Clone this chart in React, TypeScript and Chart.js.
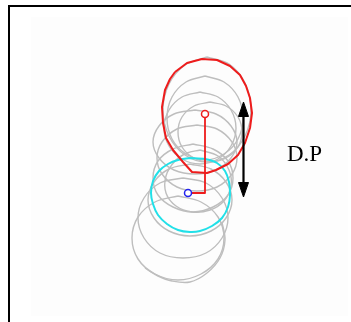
import React, { useEffect, useRef } from "react";
import { Chart, registerables } from "chart.js";

Chart.register(...registerables);

type P = [number, number];

// Contours (x to the right, y downwards, picture units)
const redContour: P[] = [
  [175, 72], [187, 63], [202, 59], [217, 60], [230, 66], [240, 75], [246, 86], [250, 98],
  [252, 113], [250, 128], [245, 143], [238, 155], [228, 164], [216, 170], [207, 173],
  [192, 172], [183, 162], [173, 150], [166, 138], [163, 123], [162, 107], [165, 90],
  [170, 79], [175, 72],
];
const cyanContour: P[] = [
  [190, 158], [205, 159], [217, 163], [225, 171], [229, 182], [230, 195], [228, 207],
  [222, 218], [212, 226], [200, 231], [190, 232], [178, 230], [167, 224], [158, 215],
  [153, 204], [151, 193], [153, 181], [159, 171], [168, 164], [178, 160], [190, 158],
];
const gray1: P[] = [[207, 57], [229, 64], [245, 83], [251, 110], [245, 136], [229, 155], [207, 162], [185, 155], [169, 136], [163, 110], [169, 84], [185, 65], [207, 57]];
const gray2: P[] = [[205, 76], [224, 82], [238, 97], [243, 118], [238, 139], [224, 154], [205, 160], [186, 154], [172, 139], [167, 118], [172, 97], [186, 82], [205, 76]];
const gray3: P[] = [[200, 92], [218, 97], [231, 110], [236, 128], [231, 146], [218, 159], [200, 164], [182, 159], [169, 146], [164, 128], [169, 110], [182, 97], [200, 92]];
const gray4: P[] = [[210, 102], [226, 106], [238, 117], [242, 132], [238, 147], [226, 158], [210, 162], [194, 158], [182, 147], [178, 132], [182, 117], [194, 106], [210, 102]];
const gray5: P[] = [[195, 110], [216, 114], [231, 126], [237, 142], [231, 158], [216, 170], [195, 174], [174, 170], [159, 158], [153, 142], [159, 126], [174, 114], [195, 110]];
const gray6: P[] = [[197, 125], [217, 129], [232, 142], [237, 158], [232, 174], [217, 187], [197, 191], [177, 187], [162, 174], [157, 158], [162, 142], [177, 129], [197, 125]];
const gray7: P[] = [[193, 144], [213, 149], [228, 161], [233, 178], [228, 195], [213, 207], [193, 212], [173, 207], [158, 195], [153, 178], [158, 161], [173, 149], [193, 144]];
const gray8: P[] = [[190, 164], [211, 169], [226, 182], [232, 200], [226, 218], [211, 231], [190, 236], [169, 231], [154, 218], [148, 200], [154, 182], [169, 169], [190, 164]];
const gray9: P[] = [[183, 178], [206, 183], [222, 198], [228, 218], [222, 238], [206, 253], [183, 258], [160, 253], [144, 238], [138, 218], [144, 198], [160, 183], [183, 178]];
const gray10: P[] = [[178, 196], [201, 202], [218, 217], [224, 238], [218, 259], [201, 274], [178, 280], [155, 274], [138, 259], [132, 238], [138, 217], [155, 202], [178, 196]];
const gray11: P[] = [[222, 222], [225, 240], [220, 258], [207, 273], [190, 282], [172, 281], [158, 276], [145, 268]];
const gray12: P[] = [[200, 150], [218, 156], [229, 170], [231, 186], [224, 201], [210, 210], [192, 212], [176, 206], [166, 193], [166, 176], [175, 161], [187, 153], [200, 150]];

const redCenter: P[] = [[205, 114]];
const blueCenter: P[] = [[188, 193]];
const dpLink: P[] = [[205, 118], [205, 193], [192, 193]];

const arrowShaft: P[] = [[243.5, 112], [243.5, 188]];
const arrowHeadTop: P[] = [[243.5, 102], [238.5, 116.5], [248.5, 116.5], [243.5, 102]];
const arrowHeadBottom: P[] = [[243.5, 197], [238.5, 182.5], [248.5, 182.5], [243.5, 197]];

const labelText = "D.P";
const labelPos: P = [287, 161];

const grays = [gray1, gray2, gray3, gray4, gray5, gray6, gray7, gray8, gray9, gray10, gray11, gray12];

const pts = (a: P[]) => a.map(([x, y]) => ({ x, y }));

export default function App() {
  const ref = useRef<HTMLCanvasElement | null>(null);

  useEffect(() => {
    if (!ref.current) return;
    const labelPlugin = {
      id: "dpLabel",
      afterDatasetsDraw(chart: any) {
        const { ctx, scales } = chart;
        ctx.save();
        ctx.font = '23px "Liberation Serif", "Times New Roman", serif';
        ctx.fillStyle = "#000";
        ctx.textBaseline = "alphabetic";
        ctx.textAlign = "left";
        ctx.fillText(labelText, scales.x.getPixelForValue(labelPos[0]), scales.y.getPixelForValue(labelPos[1]));
        ctx.restore();
      },
    };

    const datasets: any[] = [];
    grays.forEach((g, i) => {
      datasets.push({
        label: "gray" + (i + 1),
        data: pts(g),
        showLine: true,
        borderColor: "#bebebe",
        borderWidth: 1.4,
        pointRadius: 0,
        tension: 0.35,
        fill: false,
        order: 20,
      });
    });
    datasets.push({
      label: "cyan",
      data: pts(cyanContour),
      showLine: true,
      borderColor: "#22e0e8",
      borderWidth: 2,
      pointRadius: 0,
      tension: 0.3,
      order: 5,
    });
    datasets.push({
      label: "red",
      data: pts(redContour),
      showLine: true,
      borderColor: "#ee1c1c",
      borderWidth: 2,
      pointRadius: 0,
      tension: 0,
      order: 4,
    });
    datasets.push({
      label: "link",
      data: pts(dpLink),
      showLine: true,
      borderColor: "#ee1c1c",
      borderWidth: 1.8,
      pointRadius: 0,
      tension: 0,
      order: 3,
    });
    datasets.push({
      label: "redCenter",
      data: pts(redCenter),
      showLine: false,
      pointRadius: 3.5,
      pointBorderWidth: 1.5,
      pointBorderColor: "#ee1c1c",
      pointBackgroundColor: "#ffffff",
      order: 1,
    });
    datasets.push({
      label: "blueCenter",
      data: pts(blueCenter),
      showLine: false,
      pointRadius: 3.5,
      pointBorderWidth: 1.5,
      pointBorderColor: "#2222ee",
      pointBackgroundColor: "#ffffff",
      order: 1,
    });
    datasets.push({
      label: "shaft",
      data: pts(arrowShaft),
      showLine: true,
      borderColor: "#000",
      borderWidth: 2.2,
      pointRadius: 0,
      order: 2,
    });
    [arrowHeadTop, arrowHeadBottom].forEach((h, i) => {
      datasets.push({
        label: "head" + i,
        data: pts(h),
        showLine: true,
        borderColor: "#000",
        backgroundColor: "#000",
        borderWidth: 1,
        pointRadius: 0,
        fill: "shape",
        order: 2,
      });
    });

    const chart = new Chart(ref.current, {
      type: "scatter",
      data: { datasets },
      options: {
        animation: false,
        responsive: false,
        devicePixelRatio: 1,
        layout: { padding: 0, autoPadding: false },
        plugins: { legend: { display: false }, tooltip: { enabled: false }, title: { display: false } },
        events: [],
        scales: {
          x: { type: "linear", min: 0, max: 351, display: false },
          y: { type: "linear", min: 0, max: 322, reverse: true, display: false },
        },
        elements: { line: { borderCapStyle: "butt", borderJoinStyle: "round" } },
      } as any,
      plugins: [labelPlugin],
    });
    return () => chart.destroy();
  }, []);

  return (
    <div style={{ position: "fixed", left: 0, top: 0, width: 351, height: 322, overflow: "hidden", background: "#fff" }}>
      <div style={{ position: "absolute", left: 31, top: 17, width: 317, height: 299, background: "#fdfdfd" }} />
      <div
        style={{
          position: "absolute",
          left: 8,
          top: 5,
          width: 400,
          height: 400,
          borderTop: "2px solid #000",
          borderLeft: "2px solid #000",
        }}
      />
      <canvas ref={ref} width={351} height={322} style={{ position: "absolute", left: 0, top: 0, width: 351, height: 322 }} />
    </div>
  );
}
